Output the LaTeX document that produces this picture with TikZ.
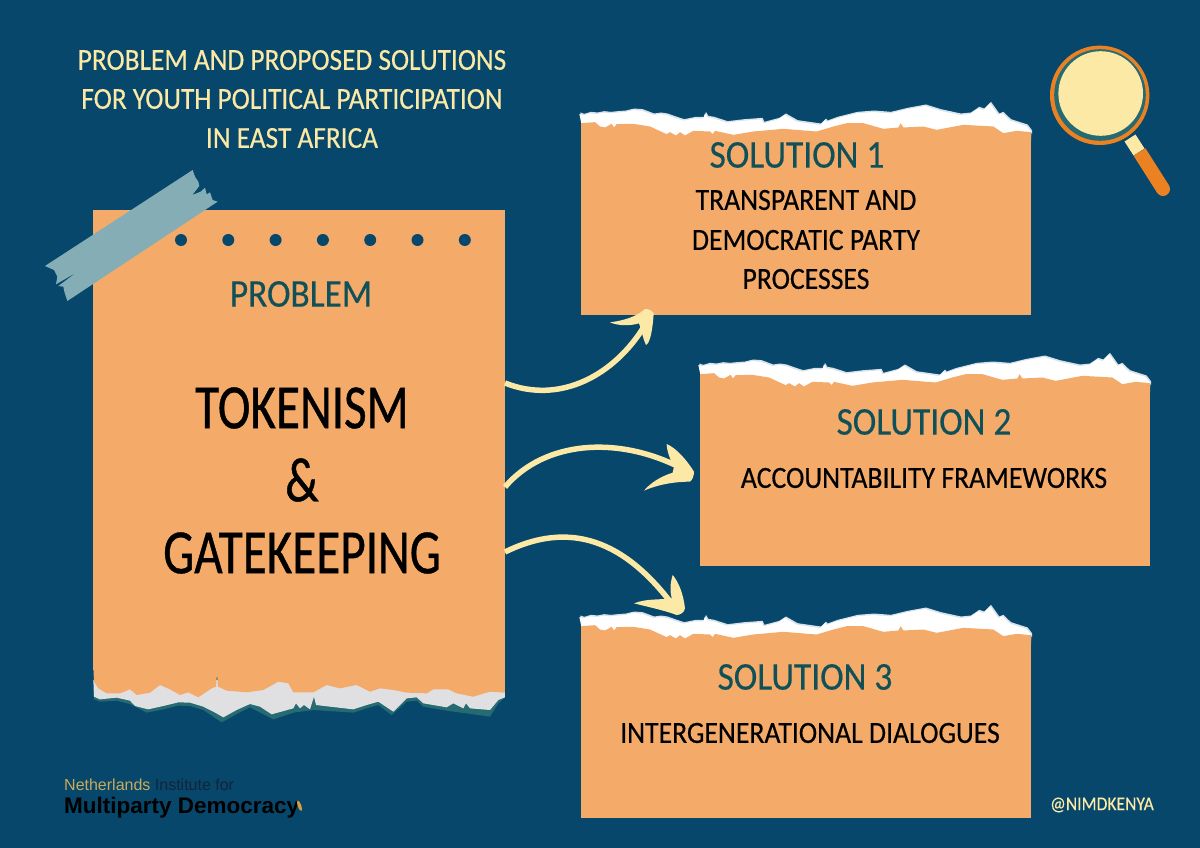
\documentclass[tikz,border=0pt]{standalone}
\usepackage{fontspec}
\setmainfont[FakeStretch=0.9, FakeBold=0.4]{Carlito}
\newfontfamily\bigfont[FakeStretch=0.78, FakeBold=0.6]{Carlito}
\newfontfamily\logofont{Liberation Sans}
\usetikzlibrary{shapes, arrows.meta, positioning, calc}
\definecolor{bgnavy}{RGB}{6, 71, 107}
\definecolor{noteorange}{RGB}{244, 171, 106}
\definecolor{paleyellow}{RGB}{251, 233, 165}
\definecolor{tapeblue}{RGB}{132, 173, 181}
\definecolor{darkteal}{RGB}{16, 80, 88}
\definecolor{edgeteal}{RGB}{38, 106, 114}
\definecolor{torngrey}{RGB}{224, 224, 226}
\definecolor{tornblue}{RGB}{214, 226, 236}
\definecolor{lensorange}{RGB}{236, 129, 34}
\definecolor{logogold}{RGB}{200, 170, 90}
\definecolor{logodark}{RGB}{18, 36, 56}
\tikzset{
  notebox/.style={fill=noteorange, inner sep=0pt, outer sep=0pt},
  flowcurve/.style={line width=5.5pt, paleyellow},
  flowhead/.style={fill=paleyellow},
  titletext/.style={paleyellow, font=\fontsize{30.4}{30.4}\selectfont},
  headtext/.style={darkteal, font=\fontsize{39.3}{39.3}\selectfont},
  bodytext/.style={black, font=\fontsize{30.8}{30.8}\selectfont},
  bigtext/.style={black, font=\bigfont\fontsize{63}{63}\selectfont},
  zoomed/.style={x=0.33333pt, y=-0.33333pt}
}
\newcommand{\torntop}{(28,72) -- (40,76) -- (60,70) -- (80,72) -- (100,68) -- (120,70) -- (140,68) -- (165,66) -- (190,60) -- (215,62) -- (250,75) -- (270,72) -- (290,75) -- (315,84) -- (340,92) -- (375,85) -- (400,85) -- (405,70) -- (412,82) -- (430,85) -- (470,98) -- (520,92) -- (575,88) -- (580,100) -- (625,88) -- (645,75) -- (680,95) -- (750,105) -- (765,90) -- (770,96) -- (800,85) -- (860,70) -- (910,66) -- (960,70) -- (1010,58) -- (1065,48) -- (1110,62) -- (1170,75) -- (1200,72) -- (1225,55) -- (1240,60) -- (1260,40) -- (1285,75) -- (1297,70) -- (1320,92) -- (1370,108) -- (1383,125)}
\newcommand{\tornbottom}{(1383,122) -- (1340,118) -- (1300,125) -- (1270,105) -- (1180,100) -- (1100,115) -- (1060,105) -- (1000,108) -- (992,95) -- (985,108) -- (940,112) -- (880,95) -- (830,95) -- (790,105) -- (740,120) -- (640,112) -- (550,120) -- (490,130) -- (435,118) -- (428,128) -- (420,120) -- (370,118) -- (345,132) -- (330,122) -- (318,132) -- (300,122) -- (290,128) -- (240,105) -- (190,97) -- (140,98) -- (132,108) -- (125,97) -- (105,108) -- (90,105) -- (75,92) -- (33,95)}
\newcommand{\tornnote}{%
  \fill[tornblue, xshift=1pt, yshift=1.5pt] \torntop -- (1383,135) -- (33,135) -- cycle;
  \fill[white] \torntop -- (1383,140) -- (33,140) -- (33,95) -- cycle;
  \fill[noteorange, yshift=-1.5pt] \tornbottom -- (33,150) -- (1383,150) -- cycle;
}
\begin{document}
\begin{tikzpicture}[x=1pt, y=-1pt]
    \useasboundingbox (0,0) rectangle (1200,848);
    \fill[bgnavy] (0,0) rectangle (1200,848);

    \node (title1) [titletext] at (292,60) {PROBLEM AND PROPOSED SOLUTIONS};
    \node (title2) [titletext] at (292,99) {FOR YOUTH POLITICAL PARTICIPATION};
    \node (title3) [titletext] at (292,138) {IN EAST AFRICA};

    \node (problem) [notebox, minimum width=412pt, minimum height=460pt] at (299,440) {};
    \begin{scope}[shift={(80,660)}, zoomed]
        \fill[edgeteal] (40,90) -- (42,118) -- (60,125) -- (110,122) -- (150,132) -- (200,158) -- (250,148) -- (295,137) -- (330,138) -- (370,150) -- (425,187) -- (470,162) -- (510,142) -- (580,178) -- (640,158) -- (700,150) -- (820,158) -- (860,145) -- (895,135) -- (935,165) -- (980,125) -- (1010,122) -- (1030,140) -- (1100,152) -- (1230,170) -- (1255,130) -- (1275,112) -- (1275,90) -- cycle;
        \fill[torngrey] (40,60) -- (42,110) -- (60,118) -- (110,113) -- (150,122) -- (165,138) -- (205,148) -- (250,138) -- (295,127) -- (330,128) -- (370,140) -- (400,155) -- (430,172) -- (470,150) -- (510,132) -- (540,140) -- (575,163) -- (640,145) -- (648,130) -- (660,145) -- (672,135) -- (690,148) -- (702,110) -- (708,135) -- (750,140) -- (820,148) -- (860,135) -- (895,125) -- (940,155) -- (980,115) -- (1010,112) -- (1030,130) -- (1100,142) -- (1120,130) -- (1150,145) -- (1158,130) -- (1170,145) -- (1230,150) -- (1255,120) -- (1275,112) -- (1275,60) -- cycle;
        \fill[noteorange] (40,20) -- (42,65) -- (55,85) -- (80,100) -- (120,100) -- (150,88) -- (170,105) -- (210,98) -- (240,75) -- (270,88) -- (300,105) -- (325,97) -- (355,112) -- (395,85) -- (408,80) -- (411,42) -- (414,80) -- (440,92) -- (500,97) -- (550,90) -- (595,65) -- (625,70) -- (640,97) -- (700,97) -- (740,75) -- (780,85) -- (830,75) -- (870,95) -- (900,85) -- (940,90) -- (980,98) -- (1040,100) -- (1060,88) -- (1105,88) -- (1130,100) -- (1180,110) -- (1230,95) -- (1275,98) -- (1275,20) -- cycle;
    \end{scope}
    \begin{scope}[shift={(30,160)}, zoomed]
        \fill[tapeblue] (488,30) -- (495,50) -- (505,65) -- (508,78) -- (487,105) -- (512,95) -- (525,83) -- (530,103) -- (540,97) -- (548,120) -- (563,125) -- (112,423) -- (103,395) -- (100,380) -- (85,378) -- (140,337) -- (78,373) -- (82,350) -- (72,330) -- (45,318) -- cycle;
    \end{scope}
    \foreach \i in {0,...,6} {
        \fill[bgnavy] (181+47.3*\i,240) circle (6);
    }
    \node (probhead) [headtext] at (301,294) {PROBLEM};
    \node (token) [bigtext] at (302,408) {TOKENISM};
    \node (amp) [bigtext] at (302,480) {\&};
    \node (gate) [bigtext] at (302,553) {GATEKEEPING};

    \node (sol1) [notebox, minimum width=450pt, minimum height=180pt] at (806,225) {};
    \begin{scope}[shift={(570,90)}, zoomed]
        \tornnote
    \end{scope}
    \node (head1) [headtext] at (797,155) {SOLUTION 1};
    \node (body1a) [bodytext] at (806,200) {TRANSPARENT AND};
    \node (body1b) [bodytext] at (806,240) {DEMOCRATIC PARTY};
    \node (body1c) [bodytext] at (806,279) {PROCESSES};

    \node (sol2) [notebox, minimum width=450pt, minimum height=180pt] at (925,476) {};
    \begin{scope}[shift={(689,341)}, zoomed]
        \tornnote
    \end{scope}
    \node (head2) [headtext] at (924,422) {SOLUTION 2};
    \node (body2) [bodytext] at (924,478) {ACCOUNTABILITY FRAMEWORKS};

    \node (sol3) [notebox, minimum width=450pt, minimum height=180pt] at (806,728) {};
    \begin{scope}[shift={(570,593)}, zoomed]
        \tornnote
    \end{scope}
    \node (head3) [headtext] at (805,677) {SOLUTION 3};
    \node (body3) [bodytext] at (810,733) {INTERGENERATIONAL DIALOGUES};

    \coordinate (from1) at (problem.east |- 0,383);
    \coordinate (from2) at (problem.east |- 0,487);
    \coordinate (from3) at (problem.east |- 0,552);
    \coordinate (to1) at (645,325);
    \coordinate (to2) at (685,470);
    \coordinate (to3) at (675,608);
    \draw[flowcurve] (from1) .. controls (560,405) and (615,375) .. (to1);
    \draw[flowcurve] (from2) .. controls (545,440) and (620,435) .. (to2);
    \draw[flowcurve] (from3) .. controls (570,520) and (625,540) .. (to3);
    \begin{scope}[shift={(490,290)}, zoomed]
        \fill[flowhead] (465,57) .. controls (440,80) and (400,92) .. (360,97) .. controls (385,108) and (420,108) .. (447,100) .. controls (455,120) and (458,145) .. (468,165) .. controls (480,160) and (488,120) .. (491,70) .. controls (490,65) and (475,55) .. (465,57) -- cycle;
        \fill[flowhead] (612,545) .. controls (590,510) and (560,475) .. (530,462) .. controls (530,480) and (540,510) .. (552,530) -- (548,548) .. controls (510,560) and (480,580) .. (462,602) .. controls (500,585) and (550,575) .. (600,575) .. controls (608,570) and (612,555) .. (612,545) -- cycle;
        \fill[flowhead] (585,955) .. controls (580,910) and (565,875) .. (548,855) .. controls (540,880) and (540,905) .. (545,925) .. controls (510,930) and (470,925) .. (432,940) .. controls (470,950) and (520,960) .. (560,975) .. controls (570,975) and (583,968) .. (585,955) -- cycle;
    \end{scope}

    \fill[lensorange] (1099.7,95.3) circle (49.7);
    \fill[edgeteal] (1100,95) circle (45.8);
    \fill[paleyellow] (1100.7,93.5) circle (42.3);
    \draw[paleyellow, line width=13pt] (1130,138) -- (1139,152);
    \draw[lensorange, line width=14pt, line cap=round] (1143.25,157.9) -- (1163,189);
    \fill[lensorange] (1133.6,155.75) -- (1145.4,148.25) -- (1149.15,154.15) -- (1137.35,161.65) -- cycle;

    \node (handle) [paleyellow, font=\fontsize{19.5}{19.5}\selectfont] at (1102,805) {@NIMDKENYA};
    \node (logo1) [anchor=west, inner sep=0pt, font=\logofont\fontsize{16}{16}\selectfont] at (64,785) {\textcolor{logogold}{Netherlands} \textcolor{logodark}{Institute for}};
    \node (logo2) [anchor=west, inner sep=0pt, font=\logofont\bfseries\fontsize{22.5}{22.5}\selectfont] at (64,808) {Multiparty Democracy};
    \fill[logogold!70!orange, rotate around={20:(299.5,805.7)}] (299.5,805.7) ellipse (1.8 and 5.5);
\end{tikzpicture}
\end{document}
